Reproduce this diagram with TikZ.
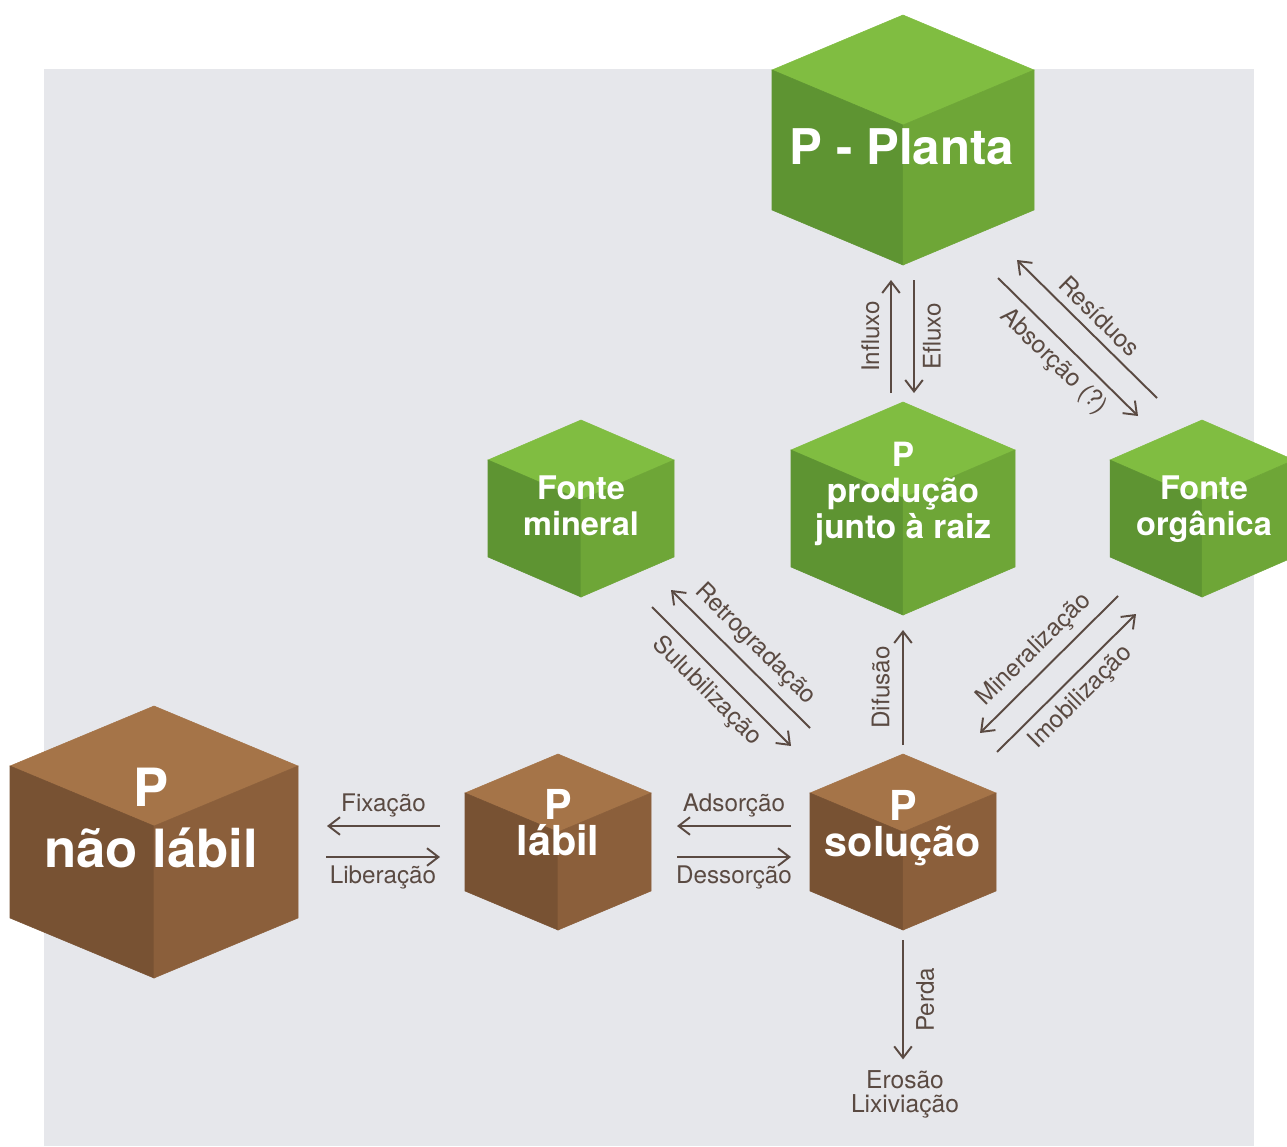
\documentclass[tikz,border=0pt]{standalone}
\usepackage{fontspec}
\setsansfont{TeX Gyre Heros}
\usetikzlibrary{arrows.meta}
\definecolor{bggray}{HTML}{E6E7EB}
\definecolor{leaftop}{HTML}{80BD41}
\definecolor{leafleft}{HTML}{5E9432}
\definecolor{leafright}{HTML}{6EA637}
\definecolor{soiltop}{HTML}{A57448}
\definecolor{soilleft}{HTML}{785233}
\definecolor{soilright}{HTML}{8B5F3B}
\definecolor{flowbrown}{HTML}{5A4A42}

% cube faces: x, top y, half width, slope drop, side height, colour prefix
\newcommand{\cubefaces}[6]{%
  \filldraw[#6top, line width=0.3pt] (#1,#2) -- ++(-#3,#4) -- ++(#3,#4) -- ++(#3,-#4) -- cycle;
  \filldraw[#6left, line width=0.3pt] (#1,#2+2*#4) -- ++(-#3,-#4) -- ++(0,#5) -- ++(#3,#4) -- cycle;
  \filldraw[#6right, line width=0.3pt] (#1,#2+2*#4) -- ++(#3,-#4) -- ++(0,#5) -- ++(-#3,#4) -- cycle;
}

\begin{document}
\begin{tikzpicture}[
    x=0.02cm, y=-0.02cm,
    font=\sffamily,
    cubetext/.style={text=white, align=center, inner sep=0pt},
    arrow/.style={-{Straight Barb[length=6.5pt,width=10pt]}, line width=1.1pt, draw=flowbrown},
    flowlabel/.style={text=flowbrown, font=\sffamily\fontsize{13.8}{15}\selectfont, inner sep=4.5pt}
]
\useasboundingbox (0,0) rectangle (1287,1146);
\fill[bggray] (44,69) rectangle (1254,1146);

% cubes
\cubefaces{903}{15}{131}{55}{140}{leaf}
\cubefaces{581}{420}{93}{40}{97}{leaf}
\cubefaces{903}{402}{112}{48}{117}{leaf}
\cubefaces{1202}{420}{92}{40}{97}{leaf}
\cubefaces{154}{706}{144}{60}{152}{soil}
\cubefaces{558}{754}{93}{39}{98}{soil}
\cubefaces{903}{754}{93}{39}{98}{soil}

\node[cubetext, font=\sffamily\bfseries\fontsize{28}{30}\selectfont] (planta) at (902,147) {P - Planta};
\node[cubetext, font=\sffamily\bfseries\fontsize{18.5}{20.2}\selectfont] (mineral) at (581,506) {Fonte\\mineral};
\node[cubetext, font=\sffamily\bfseries\fontsize{19}{20.4}\selectfont] (raiz) at (903,494) {P\\produção\\junto à raiz};
\node[cubetext, font=\sffamily\bfseries\fontsize{18.5}{20.2}\selectfont] (organica) at (1204,509) {Fonte\\orgânica};
\node[cubetext, font=\sffamily\bfseries\fontsize{30}{34.6}\selectfont] (naolabil) at (151,818) {P\\não lábil};
\node[cubetext, font=\sffamily\bfseries\fontsize{23.5}{20.4}\selectfont] (labil) at (558,823) {P\\lábil};
\node[cubetext, font=\sffamily\bfseries\fontsize{23.5}{20.4}\selectfont] (solucao) at (903,828) {P\\solução};
\node[flowlabel, align=center, inner sep=6pt, font=\sffamily\fontsize{14}{13.6}\selectfont] (erosao) at (905,1094) {Erosão\\Lixiviação};

% arrow ends
\coordinate (fix-a) at (440,826);  \coordinate (fix-b) at (327,826);
\coordinate (lib-a) at (326,857);  \coordinate (lib-b) at (440,857);
\coordinate (ads-a) at (791,826);  \coordinate (ads-b) at (677,826);
\coordinate (des-a) at (677,857);  \coordinate (des-b) at (791,857);
\coordinate (dif-a) at (903,745);  \coordinate (dif-b) at (903,630);
\coordinate (perda-a) at (903,940);
\coordinate (inf-a) at (891,393);  \coordinate (inf-b) at (891,280);
\coordinate (efl-a) at (914,280);  \coordinate (efl-b) at (914,393);
\coordinate (res-a) at (1157,398); \coordinate (res-b) at (1017,260);
\coordinate (abs-a) at (998,278);  \coordinate (abs-b) at (1138,416);
\coordinate (ret-a) at (810,728);  \coordinate (ret-b) at (671,590);
\coordinate (sul-a) at (652,607);  \coordinate (sul-b) at (791,746);
\coordinate (min-a) at (1118,596); \coordinate (min-b) at (980,733);
\coordinate (imo-a) at (997,752);  \coordinate (imo-b) at (1136,614);

\draw[arrow] (fix-a) -- node[flowlabel, above] (fixacao) {Fixação} (fix-b);
\draw[arrow] (lib-a) -- node[flowlabel, below] (liberacao) {Liberação} (lib-b);
\draw[arrow] (ads-a) -- node[flowlabel, above] (adsorcao) {Adsorção} (ads-b);
\draw[arrow] (des-a) -- node[flowlabel, below] (dessorcao) {Dessorção} (des-b);
\draw[arrow] (dif-a) -- node[flowlabel, sloped, above, inner sep=7pt] (difusao) {Difusão} (dif-b);
\draw[arrow] (perda-a) -- node[flowlabel, rotate=90, anchor=north, inner sep=7pt] (perda) {Perda} (perda-a |- erosao.north);
\draw[arrow] (inf-a) -- node[flowlabel, sloped, above, inner sep=6pt] (influxo) {Influxo} (inf-b);
\draw[arrow] (efl-a) -- node[flowlabel, rotate=90, anchor=north] (efluxo) {Efluxo} (efl-b);
\draw[arrow] (res-a) -- node[flowlabel, sloped, above] (residuos) {Resíduos} (res-b);
\draw[arrow] (abs-a) -- node[flowlabel, sloped, below] (absorcao) {Absorção (?)} (abs-b);
\draw[arrow] (ret-a) -- node[flowlabel, sloped, above] (retro) {Retrogradação} (ret-b);
\draw[arrow] (sul-a) -- node[flowlabel, sloped, below] (sulub) {Sulubilização} (sul-b);
\draw[arrow] (min-a) -- node[flowlabel, sloped, above] (mineraliz) {Mineralização} (min-b);
\draw[arrow] (imo-a) -- node[flowlabel, sloped, below] (imobiliz) {Imobilização} (imo-b);
\end{tikzpicture}
\end{document}
